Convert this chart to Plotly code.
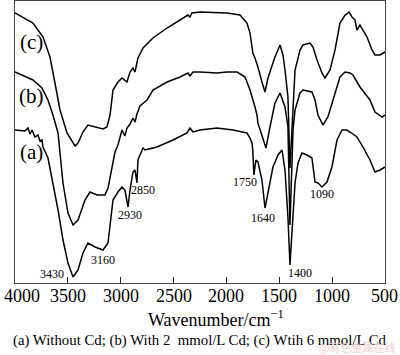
import plotly.graph_objects as go

# Wavenumber (cm^-1) and relative transmittance (arbitrary, offset) for each spectrum
wn_c = [4000, 3830, 3735, 3669, 3622, 3574, 3508, 3432, 3404, 3357, 3310, 3224, 3168, 3130, 3101,
        3073, 3026, 2988, 2941, 2912, 2884, 2865, 2837, 2789, 2695, 2562, 2439, 2364, 2345, 2326,
        2250, 2089, 1995, 1872, 1806, 1777, 1758, 1750, 1730, 1702, 1664, 1635, 1607, 1588, 1541,
        1493, 1465, 1446, 1418, 1399, 1370, 1351, 1304, 1276, 1210, 1181, 1143, 1096, 1068, 1020,
        973, 954, 926, 878, 860, 841, 812, 784, 765, 737, 670, 623, 595, 547, 500]
t_c = [270, 260, 246, 226, 200, 173, 150, 137, 140, 151, 158, 156, 154, 156, 168,
       193, 201, 205, 201, 211, 215, 211, 225, 235, 245, 255, 263, 268, 266, 270,
       271, 270, 270, 268, 260, 250, 238, 230, 225, 216, 201, 191, 205, 211, 226,
       238, 228, 213, 186, 115, 183, 213, 233, 238, 240, 236, 223, 210, 205, 213,
       233, 243, 260, 268, 269, 271, 266, 263, 253, 258, 246, 233, 228, 228, 231]

wn_b = [4000, 3830, 3745, 3688, 3641, 3593, 3546, 3499, 3451, 3404, 3338, 3291, 3224, 3149, 3120,
        3082, 3054, 3026, 2988, 2960, 2941, 2912, 2884, 2865, 2846, 2818, 2751, 2695, 2562, 2439,
        2364, 2345, 2316, 2250, 2089, 1995, 1900, 1824, 1777, 1730, 1711, 1702, 1654, 1626, 1588,
        1541, 1493, 1446, 1418, 1399, 1370, 1351, 1304, 1276, 1191, 1162, 1134, 1087, 1040, 973,
        926, 878, 831, 803, 737, 642, 595, 528, 500]
t_b = [211, 203, 195, 183, 168, 150, 100, 70, 58, 63, 83, 91, 88, 88, 95,
       116, 131, 138, 153, 147, 155, 159, 165, 161, 169, 177, 183, 193, 201, 206,
       210, 207, 211, 211, 210, 211, 211, 206, 193, 176, 168, 160, 143, 135, 156,
       180, 190, 176, 156, 58, 153, 173, 190, 193, 191, 183, 168, 158, 166, 190,
       206, 211, 210, 208, 196, 183, 171, 166, 168]

wn_a = [4000, 3905, 3877, 3858, 3839, 3811, 3783, 3764, 3745, 3735, 3688, 3641, 3593, 3546, 3499,
        3451, 3404, 3357, 3310, 3243, 3168, 3120, 3101, 3073, 3026, 2988, 2960, 2931, 2912, 2884,
        2865, 2846, 2837, 2789, 2770, 2657, 2505, 2373, 2345, 2316, 2250, 2089, 1938, 1806, 1777,
        1758, 1751, 1740, 1721, 1702, 1664, 1635, 1607, 1560, 1512, 1474, 1446, 1418, 1399, 1370,
        1351, 1323, 1285, 1238, 1191, 1162, 1134, 1096, 1049, 1002, 973, 954, 907, 860, 831,
        765, 708, 642, 595, 547, 500]
t_a = [153, 152, 155, 149, 153, 146, 148, 142, 143, 136, 125, 100, 73, 43, 20,
       6, 13, 30, 40, 36, 33, 40, 60, 83, 91, 96, 93, 76, 93, 111,
       113, 100, 123, 135, 133, 136, 143, 150, 155, 151, 153, 155, 153, 150, 145,
       140, 133, 108, 123, 121, 103, 75, 90, 116, 128, 133, 113, 66, 18, 66,
       100, 120, 130, 128, 125, 101, 100, 96, 101, 116, 133, 143, 153, 153, 151,
       146, 136, 123, 111, 113, 116]

curve_names = ["(c)", "(b)", "(a)"]
curve_label_wn = [3840, 3840, 3840]
curve_label_t = [241, 187, 131]

peak_labels = ["3430", "3160", "2930", "2850", "1750", "1640", "1400", "1090"]
peak_wn = [3650, 3168, 2912, 2789, 1824, 1654, 1304, 1096]
peak_t = [9, 23, 68, 93, 101, 65, 10, 89]

tick_vals = [4000, 3500, 3000, 2500, 2000, 1500, 1000, 500]
tick_text = ["4000", "3500", "3000", "2500", "2000", "1500", "1000", "500"]

serif = "Liberation Serif, Times New Roman, serif"
plot_top, plot_bottom = 1, 283

fig = go.Figure()
for wn, t in [(wn_c, t_c), (wn_b, t_b), (wn_a, t_a)]:
    fig.add_trace(go.Scatter(x=wn, y=t, mode="lines",
                             line=dict(color="black", width=1.5), showlegend=False,
                             hoverinfo="skip"))

def py(row):
    # pixel row below the plot -> paper coordinate
    return (plot_bottom - row) / (plot_bottom - plot_top)

ann = []
for name, x, y in zip(curve_names, curve_label_wn, curve_label_t):
    ann.append(dict(x=x, y=y, text=name, showarrow=False, xref="x", yref="y",
                    font=dict(family=serif, size=21, color="black")))
for name, x, y in zip(peak_labels, peak_wn, peak_t):
    ann.append(dict(x=x, y=y, text=name, showarrow=False, xref="x", yref="y",
                    font=dict(family=serif, size=12, color="black")))
# tick labels (the end ones are nudged inside the page, as in the original)
for i, (v, s) in enumerate(zip(tick_vals, tick_text)):
    d = dict(x=v, y=py(296), text=s, showarrow=False, xref="x", yref="paper",
             yanchor="middle", font=dict(family=serif, size=18, color="black"))
    if i == 0:
        d.update(xanchor="left", xshift=-13)
    elif i == len(tick_vals) - 1:
        d.update(xanchor="right", xshift=15)
    ann.append(d)
ann.append(dict(x=0.543, y=py(318), xref="paper", yref="paper", yanchor="middle",
                text="Wavenumber/cm<sup>−1</sup>",
                showarrow=False, font=dict(family=serif, size=18, color="black")))
ann.append(dict(x=0.5, y=py(340), xref="paper", yref="paper", yanchor="middle",
                text="(a) Without Cd; (b) With 2  mmol/L Cd; (c) Wtih 6 mmol/L Cd",
                showarrow=False, font=dict(family=serif, size=14.8, color="black")))
ann.append(dict(x=1.0, y=py(347), xref="paper", yref="paper", yanchor="middle",
                xanchor="right", xshift=12, text="@有色金属在线",
                showarrow=False, font=dict(family="Noto Sans CJK SC", size=11, color="#f2d0d0")))

fig.update_layout(
    width=400, height=355,
    margin=dict(l=15, r=15, t=plot_top, b=355 - plot_bottom, pad=0, autoexpand=False),
    paper_bgcolor="white", plot_bgcolor="white",
    annotations=ann,
    xaxis=dict(range=[4000, 500], tickvals=tick_vals, ticks="inside", ticklen=6,
               tickcolor="#222", showticklabels=False, automargin=False,
               showline=True, linecolor="#444", linewidth=1, mirror=True,
               showgrid=False, zeroline=False),
    yaxis=dict(range=[0, 282], showticklabels=False, ticks="", showline=True, automargin=False,
               linecolor="#444", linewidth=1, mirror=True, showgrid=False, zeroline=False),
)

fig.write_html("out.html", config={"displayModeBar": False},
               post_script="document.body.style.margin='0';")
